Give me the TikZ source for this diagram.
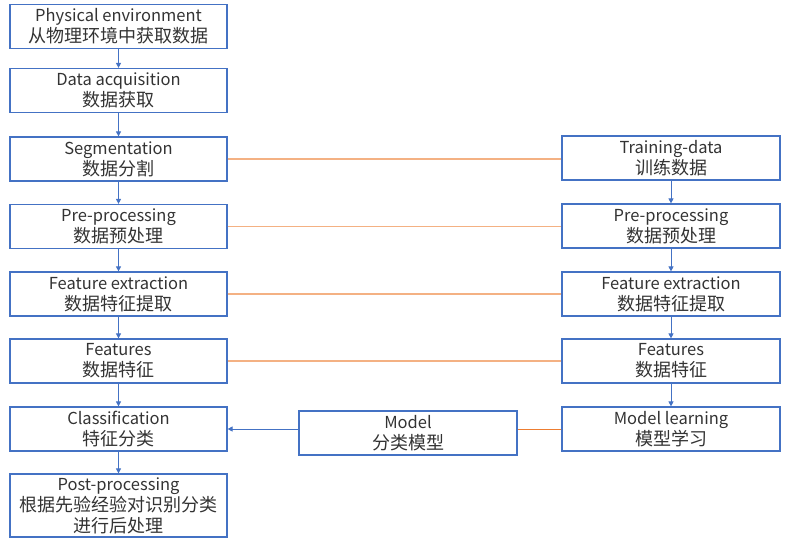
\documentclass[tikz,border=0pt]{standalone}
\usepackage{fontspec}
\setmainfont{Noto Sans CJK SC}
\usetikzlibrary{arrows.meta}
\definecolor{boxblue}{HTML}{4472C4}
\definecolor{linkorange}{HTML}{F4B183}
\definecolor{darkorange}{HTML}{ED7D31}
% Chinese lines are set a touch larger than the Latin ones
\newcommand{\cnline}[1]{{\fontsize{18}{21}\selectfont #1}}
\begin{document}
\begin{tikzpicture}[x=1pt,y=-1pt,
  stage/.style={draw=boxblue, line width=1.2pt, minimum width=217pt, minimum height=44pt,
    inner sep=0pt, align=center, font=\fontsize{16.5}{21}\selectfont, text=black!80},
  flow/.style={draw=boxblue, line width=0.9pt, -{Triangle[length=5pt,width=5pt]}},
  link/.style={draw=linkorange, line width=1.5pt},
  plainlink/.style={draw=darkorange, line width=0.8pt}]
\useasboundingbox (0,0) rectangle (798,541);

% processing chain (left column)
\node[stage] (env)  at (118.5,26.5) {Physical environment\\\cnline{从物理环境中获取数据}};
\node[stage] (acq)  at (118.5,90.5) {Data acquisition\\\cnline{数据获取}};
\node[stage] (seg)  at (118.5,159)  {Segmentation\\\cnline{数据分割}};
\node[stage] (pre)  at (118.5,226.5){Pre-processing\\\cnline{数据预处理}};
\node[stage] (fex)  at (118.5,294)  {Feature extraction\\\cnline{数据特征提取}};
\node[stage] (feat) at (118.5,361)  {Features\\\cnline{数据特征}};
\node[stage] (cls)  at (118.5,429)  {Classification\\\cnline{特征分类}};
\node[stage, minimum height=63pt] (post) at (118.5,505.5)
  {Post-processing\\\cnline{根据先验经验对识别分类}\\\cnline{进行后处理}};

% training chain (right column)
\node[stage, minimum width=218pt] (tdat)  at (671,158)  {Training-data\\\cnline{训练数据}};
\node[stage, minimum width=218pt] (tpre)  at (671,226)  {Pre-processing\\\cnline{数据预处理}};
\node[stage, minimum width=218pt] (tfex)  at (671,294)  {Feature extraction\\\cnline{数据特征提取}};
\node[stage, minimum width=218pt] (tfeat) at (671,361)  {Features\\\cnline{数据特征}};
\node[stage, minimum width=218pt] (mlrn)  at (671,429)  {Model learning\\\cnline{模型学习}};

% model
\node[stage, minimum width=218pt] (model) at (408,433) {Model\\\cnline{分类模型}};

% arrows down the left column
\draw[flow] (env) -- (acq);
\draw[flow] (acq) -- (seg);
\draw[flow] (seg) -- (pre);
\draw[flow] (pre) -- (fex);
\draw[flow] (fex) -- (feat);
\draw[flow] (feat) -- (cls);
\draw[flow] (cls) -- (post);

% arrows down the right column
\draw[flow] (tdat) -- (tpre);
\draw[flow] (tpre) -- (tfex);
\draw[flow] (tfex) -- (tfeat);
\draw[flow] (tfeat) -- (mlrn);

% links between matching stages
\draw[link] (seg.east)  -- (tdat.west |- seg.east);
\draw[link] (pre.east)  -- (tpre.west |- pre.east);
\draw[link] (fex.east)  -- (tfex.west |- fex.east);
\draw[link] (feat.east) -- (tfeat.west |- feat.east);

% model feeds classification
\draw[plainlink] (mlrn.west) -- (model.east |- mlrn.west);
\draw[flow] (model.west |- cls.east) -- (cls.east);
\end{tikzpicture}
\end{document}
